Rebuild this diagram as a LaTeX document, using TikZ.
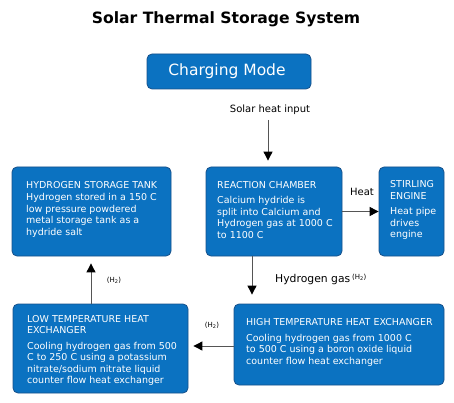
\documentclass[tikz,border=0pt]{standalone}
\usepackage{fontspec}
\setmainfont{DejaVu Sans}
\usetikzlibrary{arrows.meta,calc}
\definecolor{boxfill}{HTML}{0B72C1}
\definecolor{boxline}{HTML}{16508A}
\definecolor{arrline}{HTML}{555555}
\tikzset{
  box/.style={draw=boxline, line width=0.8pt, fill=boxfill, rounded corners=5pt, inner sep=0pt},
  btxt/.style={text=white, font=\fontsize{9.5}{11.5}\selectfont, align=left, inner sep=0pt, anchor=north west},
  lbl/.style={font=\fontsize{10}{12}\selectfont, inner sep=0pt},
  small/.style={font=\fontsize{7}{8}\selectfont, inner sep=0pt},
  arr/.style={draw=arrline, line width=0.9pt, -{Triangle[width=9pt,length=9pt,color=black]}}
}
\begin{document}
\begin{tikzpicture}[x=1pt,y=-1pt]
\useasboundingbox (0,0) rectangle (454,403);
% title
\node[font=\fontsize{15.6}{18}\selectfont\bfseries, inner sep=0pt] (title) at (226,19) {Solar Thermal Storage System};
% charging mode
\node[box, minimum width=164pt, minimum height=35pt] (cm) at (229,71.5) {};
\node[text=white, font=\fontsize{15.5}{18}\selectfont, inner sep=0pt] (cmt) at (227,71.5) {Charging Mode};
% boxes
\node[box, minimum width=159pt, minimum height=89pt] (hst) at (91.5,211.5) {};
\node[box, minimum width=136pt, minimum height=89pt] (rc) at (274,211.5) {};
\node[box, minimum width=65pt, minimum height=89pt] (se) at (411.5,211.5) {};
\node[box, minimum width=175pt, minimum height=89pt] (lt) at (100.5,348.5) {};
\node[box, minimum width=210pt, minimum height=81pt] (ht) at (339,344.5) {};
% box texts
\node[btxt] (hstt) at (26,181) {HYDROGEN STORAGE TANK\\[1pt]Hydrogen stored in a 150 C\\low pressure powdered\\metal storage tank as a\\hydride salt};
\node[btxt] (rct) at (217,181) {REACTION CHAMBER\\[4pt]Calcium hydride is\\split into Calcium and\\Hydrogen gas at 1000 C\\to 1100 C};
\node[btxt] (set) at (390,180.5) {STIRLING\\ENGINE\\[4pt]Heat pipe\\drives\\engine};
\node[btxt] (ltt) at (27,315) {LOW TEMPERATURE HEAT\\EXCHANGER\\[4pt]Cooling hydrogen gas from 500\\C to 250 C using a potassium\\nitrate/sodium nitrate liquid\\counter flow heat exchanger};
\node[btxt] (htt) at (246,318.5) {HIGH TEMPERATURE HEAT EXCHANGER\\[4pt]Cooling hydrogen gas from 1000 C\\to 500 C using a boron oxide liquid\\counter flow heat exchanger};
% labels
\node[lbl] (solar) at (270,110) {Solar heat input};
\node[lbl] (heat) at (362,192) {Heat};
\node[lbl, font=\fontsize{10.8}{12}\selectfont, anchor=west] (hg) at (275,279) {Hydrogen gas\,\raisebox{3pt}{\fontsize{7}{8}\selectfont(H\textsubscript{2})}};
\node[small] (h2a) at (114,280) {(H\textsubscript{2})};
\node[small] (h2b) at (212,325.5) {(H\textsubscript{2})};
% connectors
\coordinate (s1) at (268,120);
\draw[arr, shorten >=6pt] (s1) -- (s1 |- rc.north);
\draw[arr] (rc.east) -- (se.west);
\coordinate (d1) at (252,256);
\draw[arr, shorten >=9pt] (d1) -- (d1 |- ht.north);
\coordinate (u1) at (91,304);
\draw[arr, shorten >=7pt] (u1) -- (u1 |- hst.south);
\coordinate (l1) at (234,346);
\draw[arr, shorten >=5pt] (l1) -- (l1 -| lt.east);
\end{tikzpicture}
\end{document}
